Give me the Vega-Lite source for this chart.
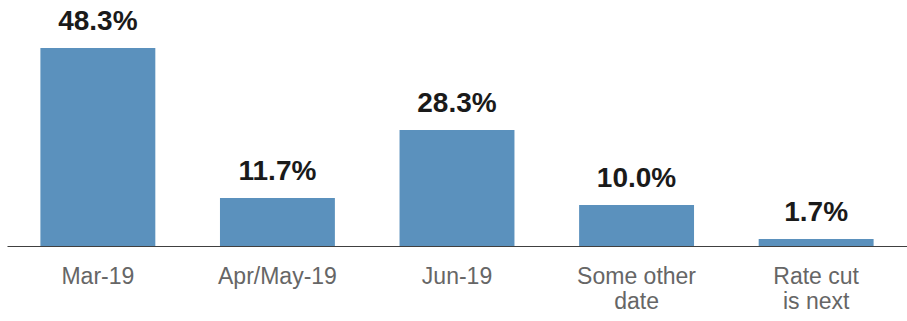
{
  "$schema": "https://vega.github.io/schema/vega-lite/v6.json",
  "width": 900,
  "height": 205,
  "autosize": {"type": "none"},
  "padding": {"left": 7, "top": 41, "right": 0, "bottom": 75},
  "background": "white",
  "data": {
    "values": [
      {"category": "Mar-19", "value": 0.483},
      {"category": "Apr/May-19", "value": 0.117},
      {"category": "Jun-19", "value": 0.283},
      {"category": "Some other date", "value": 0.100},
      {"category": "Rate cut is next", "value": 0.017}
    ]
  },
  "encoding": {
    "x": {
      "field": "category",
      "type": "nominal",
      "sort": null,
      "scale": {"paddingInner": 0.36, "paddingOuter": 0.186},
      "axis": {
        "title": null,
        "labelAngle": 0,
        "ticks": false,
        "grid": false,
        "domainColor": "#404040",
        "domainWidth": 1.2,
        "labelColor": "#666666",
        "labelFont": "Liberation Sans",
        "labelFontSize": 23,
        "labelPadding": 19,
        "labelLineHeight": 25,
        "labelBaseline": "top",
        "labelExpr": "datum.value == 'Some other date' ? ['Some other', 'date'] : datum.value == 'Rate cut is next' ? ['Rate cut', 'is next'] : datum.value"
      }
    },
    "y": {
      "field": "value",
      "type": "quantitative",
      "scale": {"domain": [0, 0.5]},
      "axis": null
    }
  },
  "layer": [
    {"mark": {"type": "bar", "color": "#5b91bd"}},
    {
      "mark": {
        "type": "text",
        "dy": -18,
        "baseline": "alphabetic",
        "font": "Liberation Sans",
        "fontSize": 28,
        "fontWeight": "bold",
        "color": "#1a1a1a"
      },
      "encoding": {
        "text": {"field": "value", "type": "quantitative", "format": ".1%"}
      }
    }
  ],
  "config": {"view": {"stroke": null}}
}
